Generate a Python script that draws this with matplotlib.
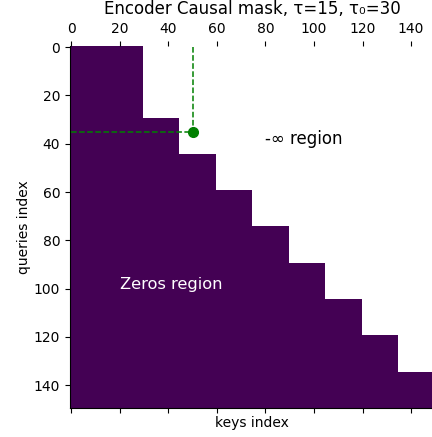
import numpy as np
import matplotlib
matplotlib.use("Agg")
import matplotlib.pyplot as plt

# mask parameters
tau = 15
tau0 = 30
n = 150

# block rows: start row of each block and how many keys it can see
block_start = [0, 30, 45, 60, 75, 90, 105, 120, 135]
block_keys = [30, 45, 60, 75, 90, 105, 120, 135, 150]

mask = np.full((n, n), -np.inf)
for k in range(len(block_start)):
    r0 = block_start[k]
    r1 = block_start[k + 1] if k + 1 < len(block_start) else n
    mask[r0:r1, :block_keys[k]] = 0.0

# highlighted point
px, py = 50, 35

fig = plt.figure(figsize=(4.32, 4.37), dpi=100)
ax = fig.add_axes([0.162, 0.066, 0.843, 0.829])
ax.imshow(mask, cmap="viridis", aspect="auto", interpolation="nearest")

ax.plot([0, px], [py, py], "g--", lw=1.1)
ax.plot([px, px], [0, py], "g--", lw=1.1)
ax.plot(px, py, "go", ms=7)

ax.text(80, 40, "-∞ region", fontsize=12, color="black")
ax.text(20, 100, "Zeros region", fontsize=11.7, color="white")

ax.set_xlim(-0.5, n - 0.5)
ax.set_ylim(n - 0.5, -0.5)
ax.set_xticks(np.arange(0, 141, 20))
ax.set_yticks(np.arange(0, 141, 20))
ax.tick_params(top=True, labeltop=True, bottom=True, labelbottom=False)
ax.spines["top"].set_visible(False)
ax.spines["right"].set_visible(False)

ax.set_xlabel("keys index", labelpad=2)
ax.set_ylabel("queries index", labelpad=2)
ax.set_title(f"Encoder Causal mask, τ={tau}, τ₀={tau0}")

fig.savefig("out.png", dpi=100)
